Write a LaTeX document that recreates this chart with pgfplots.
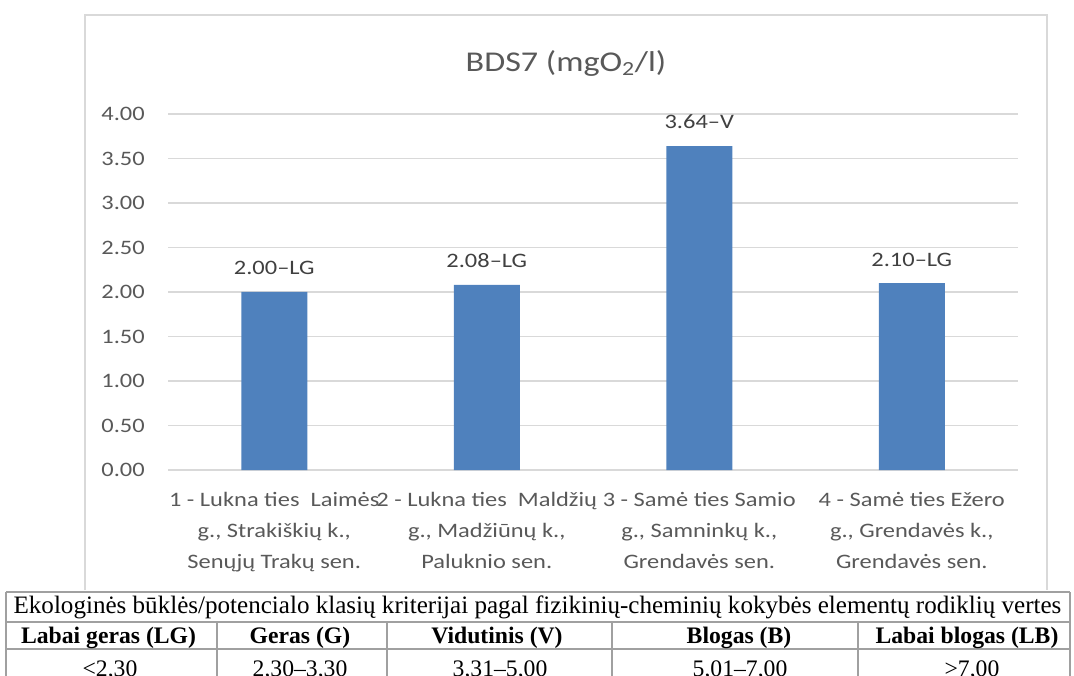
\documentclass[border=0pt]{standalone}
\usepackage{pgfplots}
\pgfplotsset{compat=1.18}
\usepackage{fontspec}
\setmainfont{Liberation Serif}
\newfontfamily\calfont[FakeStretch=1.19]{Carlito}
\definecolor{barblue}{HTML}{4F81BD}
\definecolor{txtgray}{HTML}{595959}
\definecolor{lblgray}{HTML}{404040}
\definecolor{gridgray}{HTML}{D9D9D9}
\definecolor{tblgray}{HTML}{A0A0A0}
\begin{document}
\begin{tikzpicture}
\useasboundingbox (0,0) rectangle (805.5pt,506.25pt);
% chart frame
\draw[gridgray, line width=1.5pt] (63.75pt,63.75pt) -- (63.75pt,495pt) -- (785.25pt,495pt) -- (785.25pt,63.75pt);
\node[txtgray, font={\calfont\fontsize{21.5}{25}\selectfont}] at (424.5pt,458.5pt) {BDS7 (mgO\textsubscript{2}/l)};
\begin{axis}[
  at={(126pt,153.75pt)}, anchor=south west,
  scale only axis, width=637.5pt, height=267pt,
  xmin=-0.5, xmax=3.5, ymin=0, ymax=4,
  ytick={0,0.5,...,4},
  xtick={0,1,2,3},
  xticklabels={{1 - Lukna ties \ Laimės\\g., Strakiškių k.,\\Senųjų Trakų sen.},
               {2 - Lukna ties \ Maldžių\\g., Madžiūnų k.,\\Paluknio sen.},
               {3 - Samė ties Samio\\g., Samninkų k.,\\Grendavės sen.},
               {4 - Samė ties Ežero\\g., Grendavės k.,\\Grendavės sen.}},
  axis line style={draw=none},
  major tick length=0pt,
  ymajorgrids, major grid style={gridgray, line width=1pt},
  /pgf/number format/assume math mode=true,
  yticklabel style={/pgf/number format/.cd, fixed, fixed zerofill, precision=2, /tikz/.cd,
     font={\calfont\fontsize{15.4}{18}\selectfont}, text=txtgray, anchor=east, inner sep=0pt, xshift=-17.25pt},
  xticklabel style={font={\calfont\fontsize{15.4}{23.25}\selectfont}, text=txtgray, align=center, anchor=north, inner sep=0pt, yshift=-16.5pt},
  ybar, bar width=49.5pt,
  nodes near coords, point meta=explicit symbolic,
  every node near coord/.append style={font={\calfont\fontsize{15.4}{18}\selectfont}, text=lblgray, anchor=south, inner sep=0pt, yshift=12.5pt},
]
\addplot[fill=barblue, draw=none] coordinates {(0,2.00) [2.00–LG] (1,2.08) [2.08–LG] (2,3.64) [3.64–V] (3,2.10) [2.10–LG]};
\end{axis}
% table
\begin{scope}[tblgray, line width=1.5pt]
\draw (4.5pt,62.25pt) -- (802.5pt,62.25pt);
\draw (4.5pt,39.75pt) -- (802.5pt,39.75pt);
\draw (4.5pt,19.5pt) -- (802.5pt,19.5pt);
\draw (4.5pt,-1.5pt) -- (802.5pt,-1.5pt);
\draw (4.5pt,-1.5pt) -- (4.5pt,62.25pt);
\draw (802.5pt,-1.5pt) -- (802.5pt,62.25pt);
\foreach \xx in {162.75,290.25,459,643.5} \draw (\xx pt,-1.5pt) -- (\xx pt,39.75pt);
\end{scope}
\begin{scope}[every node/.style={anchor=base, inner sep=0pt}]
\node[font=\fontsize{18.8}{22}\selectfont] at (403.1pt,46.5pt) {Ekologinės būklės/potencialo klasių kriterijai pagal fizikinių-cheminių kokybės elementų rodiklių vertes};
\node[font=\fontsize{17.75}{20}\selectfont\bfseries] at (81.4pt,23.6pt) {Labai geras (LG)};
\node[font=\fontsize{17.75}{20}\selectfont\bfseries] at (225pt,23.6pt) {Geras (G)};
\node[font=\fontsize{17.75}{20}\selectfont\bfseries] at (372.75pt,23.6pt) {Vidutinis (V)};
\node[font=\fontsize{17.75}{20}\selectfont\bfseries] at (554.25pt,23.6pt) {Blogas (B)};
\node[font=\fontsize{17.75}{20}\selectfont\bfseries] at (725.25pt,23.6pt) {Labai blogas (LB)};
\end{scope}
\begin{scope}[every node/.style={anchor=base, inner sep=0pt, font=\fontsize{17.75}{20}\selectfont}]
\node at (82.5pt,-0.75pt) {<2,30};
\node at (225pt,-0.75pt) {2,30–3,30};
\node at (375pt,-0.75pt) {3,31–5,00};
\node at (555pt,-0.75pt) {5,01–7,00};
\node at (729pt,-0.75pt) {>7,00};
\end{scope}
\end{tikzpicture}
\end{document}
